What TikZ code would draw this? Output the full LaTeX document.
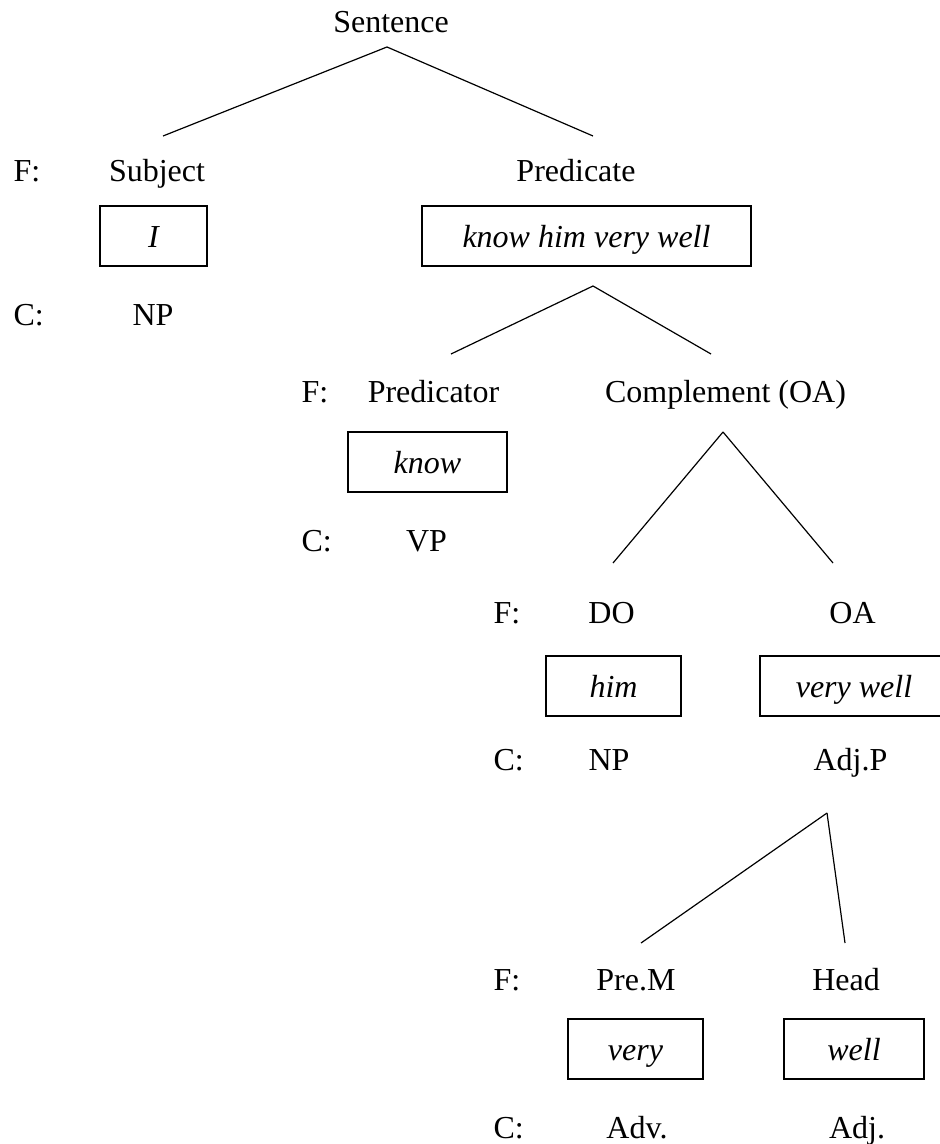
\documentclass[tikz,border=0pt]{standalone}
\usepackage{fontspec}
\setmainfont{Liberation Serif}
\usepackage{tikz}

\begin{document}
\begin{tikzpicture}[x=0.5pt, y=-0.5pt, line width=0.6pt,
    mot/.style={anchor=base, inner sep=0pt, font=\fontsize{16}{19}\selectfont},
    fc/.style={mot, anchor=base west},
    cadre/.style={draw, inner sep=0pt, minimum height=30pt,
      text height=15.2pt, text depth=4pt,
      font=\fontsize{16}{19}\selectfont\itshape}]
    \useasboundingbox (0,0) rectangle (939,1144);

    % Points d'attache des branches
    \coordinate (sent-pied) at (387,47);
    \coordinate (subj-tete) at (163,136);
    \coordinate (pred-tete) at (593,136);
    \coordinate (kh-pied) at (593,286);
    \coordinate (pr-tete) at (451,354);
    \coordinate (comp-tete) at (711,354);
    \coordinate (comp-pied) at (723,432);
    \coordinate (do-tete) at (613,563);
    \coordinate (oa-tete) at (833,563);
    \coordinate (adjp-pied) at (827,813);
    \coordinate (prem-tete) at (641,943);
    \coordinate (head-tete) at (845,943);

    % Racine
    \node[mot] (sentence) at (391,33) {Sentence};

    % Sujet et prédicat
    \node[fc] (f1) at (13,182) {F:};
    \node[mot] (subject) at (157,182) {Subject};
    \node[mot] (predicate) at (576,182) {Predicate};
    \node[cadre, minimum width=53.5pt] (i) at (153.5,236) {I};
    \node[cadre, minimum width=164.5pt] (khvw) at (586.5,236) {know him very well};
    \node[fc] (c1) at (13,326) {C:};
    \node[mot] (np1) at (153,326) {NP};

    % Prédicateur et complément
    \node[fc] (f2) at (301,402) {F:};
    \node[mot] (predicator) at (433.5,402) {Predicator};
    \node[mot] (complement) at (725.5,402) {Complement (OA)};
    \node[cadre, minimum width=79.5pt] (know) at (427.5,462) {know};
    \node[fc] (c2) at (301,551) {C:};
    \node[mot] (vp) at (426.5,551) {VP};

    % DO et OA
    \node[fc] (f3) at (493,623) {F:};
    \node[mot] (do) at (611.5,623) {DO};
    \node[mot] (oa) at (852.5,623) {OA};
    \node[cadre, minimum width=67.5pt] (him) at (613.5,686) {him};
    \node[cadre, minimum width=94pt] (vw) at (854,686) {very well};
    \node[fc] (c3) at (493,770) {C:};
    \node[mot] (np2) at (609,770) {NP};
    \node[mot] (adjp) at (850.5,770) {Adj.P};

    % Pré-modifieur et tête
    \node[fc] (f4) at (493,990) {F:};
    \node[mot] (prem) at (636,990) {Pre.M};
    \node[mot] (head) at (846,990) {Head};
    \node[cadre, minimum width=67.5pt] (very) at (635.5,1049) {very};
    \node[cadre, minimum width=70pt] (well) at (854,1049) {well};
    \node[fc] (c4) at (493,1138) {C:};
    \node[mot] (adv) at (637,1138) {Adv.};
    \node[mot] (adj) at (857,1138) {Adj.};

    % Branches
    \draw (sent-pied) -- (subj-tete);
    \draw (sent-pied) -- (pred-tete);
    \draw (kh-pied) -- (pr-tete);
    \draw (kh-pied) -- (comp-tete);
    \draw (comp-pied) -- (do-tete);
    \draw (comp-pied) -- (oa-tete);
    \draw (adjp-pied) -- (prem-tete);
    \draw (adjp-pied) -- (head-tete);
\end{tikzpicture}
\end{document}
